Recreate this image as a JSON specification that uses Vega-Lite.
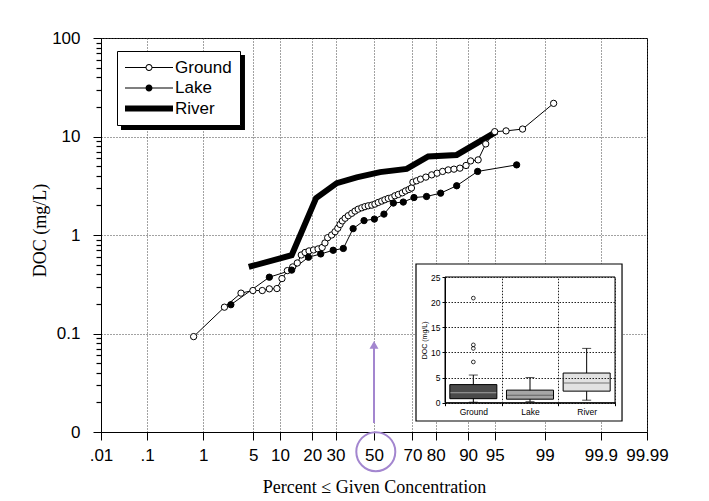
{
  "$schema": "https://vega.github.io/schema/vega-lite/v6.json",
  "width": 546,
  "height": 394,
  "autosize": {"type": "none"},
  "padding": {"left": 101, "top": 38, "right": 62, "bottom": 69},
  "background": "white",
  "datasets": {
    "series": [
      {"s": "Ground", "p": 0.7, "doc": 0.093},
      {"s": "Ground", "p": 2.08, "doc": 0.185},
      {"s": "Ground", "p": 3.5, "doc": 0.257},
      {"s": "Ground", "p": 4.95, "doc": 0.273},
      {"s": "Ground", "p": 6.4, "doc": 0.273},
      {"s": "Ground", "p": 7.7, "doc": 0.284},
      {"s": "Ground", "p": 9.3, "doc": 0.286},
      {"s": "Ground", "p": 10.5, "doc": 0.361},
      {"s": "Ground", "p": 11.9, "doc": 0.435},
      {"s": "Ground", "p": 13.4, "doc": 0.474},
      {"s": "Ground", "p": 14.8, "doc": 0.52},
      {"s": "Ground", "p": 16.1, "doc": 0.627},
      {"s": "Ground", "p": 17.4, "doc": 0.665},
      {"s": "Ground", "p": 18.8, "doc": 0.689},
      {"s": "Ground", "p": 20.5, "doc": 0.705},
      {"s": "Ground", "p": 22.3, "doc": 0.722},
      {"s": "Ground", "p": 24.0, "doc": 0.747},
      {"s": "Ground", "p": 25.2, "doc": 0.83},
      {"s": "Ground", "p": 26.4, "doc": 0.939},
      {"s": "Ground", "p": 28.2, "doc": 1.0},
      {"s": "Ground", "p": 29.8, "doc": 1.08},
      {"s": "Ground", "p": 31.1, "doc": 1.17},
      {"s": "Ground", "p": 32.2, "doc": 1.28},
      {"s": "Ground", "p": 33.3, "doc": 1.39},
      {"s": "Ground", "p": 34.7, "doc": 1.48},
      {"s": "Ground", "p": 36.3, "doc": 1.57},
      {"s": "Ground", "p": 38.1, "doc": 1.66},
      {"s": "Ground", "p": 39.8, "doc": 1.75},
      {"s": "Ground", "p": 41.5, "doc": 1.83},
      {"s": "Ground", "p": 43.4, "doc": 1.89},
      {"s": "Ground", "p": 45.1, "doc": 1.94},
      {"s": "Ground", "p": 46.9, "doc": 1.98},
      {"s": "Ground", "p": 48.8, "doc": 2.01},
      {"s": "Ground", "p": 50.5, "doc": 2.06},
      {"s": "Ground", "p": 52.3, "doc": 2.14},
      {"s": "Ground", "p": 54.2, "doc": 2.21},
      {"s": "Ground", "p": 55.9, "doc": 2.28},
      {"s": "Ground", "p": 57.7, "doc": 2.35},
      {"s": "Ground", "p": 59.5, "doc": 2.39},
      {"s": "Ground", "p": 61.2, "doc": 2.5},
      {"s": "Ground", "p": 63.0, "doc": 2.58},
      {"s": "Ground", "p": 65.0, "doc": 2.68},
      {"s": "Ground", "p": 66.6, "doc": 2.8},
      {"s": "Ground", "p": 68.3, "doc": 2.9},
      {"s": "Ground", "p": 69.5, "doc": 3.0},
      {"s": "Ground", "p": 70.2, "doc": 3.44},
      {"s": "Ground", "p": 71.9, "doc": 3.55},
      {"s": "Ground", "p": 73.7, "doc": 3.69},
      {"s": "Ground", "p": 76.0, "doc": 3.87},
      {"s": "Ground", "p": 78.4, "doc": 4.08},
      {"s": "Ground", "p": 80.5, "doc": 4.24},
      {"s": "Ground", "p": 82.5, "doc": 4.42},
      {"s": "Ground", "p": 84.4, "doc": 4.58},
      {"s": "Ground", "p": 86.2, "doc": 4.66},
      {"s": "Ground", "p": 87.9, "doc": 4.77},
      {"s": "Ground", "p": 89.5, "doc": 5.08},
      {"s": "Ground", "p": 90.6, "doc": 5.65},
      {"s": "Ground", "p": 92.2, "doc": 5.79},
      {"s": "Ground", "p": 93.6, "doc": 8.41},
      {"s": "Ground", "p": 95.0, "doc": 11.2},
      {"s": "Ground", "p": 96.4, "doc": 11.4},
      {"s": "Ground", "p": 97.85, "doc": 11.9},
      {"s": "Ground", "p": 99.28, "doc": 21.7},
      {"s": "Lake", "p": 2.56, "doc": 0.196},
      {"s": "Lake", "p": 7.7, "doc": 0.373},
      {"s": "Lake", "p": 13.1, "doc": 0.44},
      {"s": "Lake", "p": 18.6, "doc": 0.595},
      {"s": "Lake", "p": 23.4, "doc": 0.642},
      {"s": "Lake", "p": 28.9, "doc": 0.7},
      {"s": "Lake", "p": 33.8, "doc": 0.73},
      {"s": "Lake", "p": 38.8, "doc": 1.16},
      {"s": "Lake", "p": 44.6, "doc": 1.4},
      {"s": "Lake", "p": 50.2, "doc": 1.45},
      {"s": "Lake", "p": 55.4, "doc": 1.63},
      {"s": "Lake", "p": 60.4, "doc": 2.11},
      {"s": "Lake", "p": 65.5, "doc": 2.16},
      {"s": "Lake", "p": 70.7, "doc": 2.4},
      {"s": "Lake", "p": 76.3, "doc": 2.46},
      {"s": "Lake", "p": 81.8, "doc": 2.66},
      {"s": "Lake", "p": 87.0, "doc": 3.16},
      {"s": "Lake", "p": 92.1, "doc": 4.42},
      {"s": "Lake", "p": 97.4, "doc": 5.15},
      {"s": "River", "p": 4.4, "doc": 0.474},
      {"s": "River", "p": 13.1, "doc": 0.623},
      {"s": "River", "p": 21.5, "doc": 2.37},
      {"s": "River", "p": 30.6, "doc": 3.36},
      {"s": "River", "p": 40.7, "doc": 3.84},
      {"s": "River", "p": 53.3, "doc": 4.35},
      {"s": "River", "p": 67.2, "doc": 4.69},
      {"s": "River", "p": 77.0, "doc": 6.27},
      {"s": "River", "p": 87.0, "doc": 6.5},
      {"s": "River", "p": 95.25, "doc": 11.2}
    ],
    "frames": [
      {"item": "legend shadow", "p1": 0.0284, "p2": 3.94, "doc1": 11.64, "doc2": 67.2},
      {"item": "inset outer", "p1": 71.64, "p2": 99.9636, "doc1": 0.01293, "doc2": 0.5077},
      {"item": "inset inner", "p1": 83.33, "p2": 99.9487, "doc1": 0.01984, "doc2": 0.3748}
    ],
    "markup": [
      {"item": "circle", "p": 50.98, "doc": 0.00631},
      {"item": "arrow", "p": 50, "doc": 0.0766, "doc_from": 0.01234}
    ],
    "box": [
      {"cat": "Ground", "lower": 0.1, "q1": 0.8, "median": 2.0, "q3": 3.6, "upper": 5.5},
      {"cat": "Lake", "lower": 0.2, "q1": 0.7, "median": 1.5, "q3": 2.5, "upper": 5.0},
      {"cat": "River", "lower": 0.5, "q1": 2.3, "median": 3.9, "q3": 5.9, "upper": 10.8}
    ],
    "outliers": [
      {"cat": "Ground", "doc": 8.1},
      {"cat": "Ground", "doc": 10.8},
      {"cat": "Ground", "doc": 11.5},
      {"cat": "Ground", "doc": 20.8}
    ]
  },
  "layer": [
    {
      "layer": [
        {
          "data": {"name": "series"},
          "transform": [{"calculate": "quantileNormal(datum.p / 100)", "as": "z"}],
          "mark": {"type": "line", "color": "black"},
          "encoding": {
            "x": {
              "field": "z", "type": "quantitative",
              "scale": {"domain": [-3.719, 3.719], "nice": false, "zero": false},
              "axis": {
                "orient": "bottom",
                "values": [-3.719, -3.0902, -2.3263, -1.6449, -1.2816, -0.8416, -0.5244, 0, 0.5244, 0.8416, 1.2816, 1.6449, 2.3263, 3.0902, 3.719],
                "tickCount": 30,
                "labelExpr": "['.01','.1','1','5','10','20','30','50','70','80','90','95','99','99.9','99.99'][indexof([-3.719, -3.0902, -2.3263, -1.6449, -1.2816, -0.8416, -0.5244, 0, 0.5244, 0.8416, 1.2816, 1.6449, 2.3263, 3.0902, 3.719], datum.value)]",
                "title": "Percent ≤ Given Concentration",
                "titleFont": "Liberation Serif", "titleFontSize": 18, "titleFontWeight": "normal", "titlePadding": 15,
                "labelFont": "Liberation Sans", "labelFontSize": 17, "labelPadding": 7, "labelFlush": false, "labelOverlap": false, "labelDx": 2,
                "tickSize": 8,
                "grid": true, "gridDash": [1, 2], "gridColor": "#444", "gridWidth": 1
              }
            },
            "y": {
              "field": "doc", "type": "quantitative",
              "scale": {"type": "log", "domain": [0.01, 100], "nice": false},
              "axis": {
                "orient": "left",
                "values": [0.01, 0.1, 1, 10, 100],
                "tickCount": 20,
                "labelExpr": "datum.value === 0.01 ? '0' : format(datum.value, '~g')",
                "tickSize": 8,
                "grid": true, "gridDash": [1, 2], "gridColor": "#444", "gridWidth": 1,
                "labelFont": "Liberation Sans", "labelFontSize": 17, "labelPadding": 13, "labelOverlap": false, "labelFlush": false, "labelDy": 2,
                "title": "DOC (mg/L)", "titleFont": "Liberation Serif", "titleFontSize": 18, "titleFontWeight": "normal", "titlePadding": 2, "titleY": 192
              }
            },
            "detail": {"field": "s", "type": "nominal"},
            "strokeWidth": {"condition": {"test": "datum.s === 'River'", "value": 6}, "value": 1},
            "order": {"field": "p", "type": "quantitative"}
          }
        },
        {
          "data": {"name": "series"},
          "transform": [{"filter": "datum.s !== 'River'"}, {"calculate": "quantileNormal(datum.p / 100)", "as": "z"}],
          "mark": {"type": "point", "shape": "circle", "size": 40, "filled": true, "stroke": "black", "strokeWidth": 1, "opacity": 1},
          "encoding": {
            "x": {"field": "z", "type": "quantitative", "scale": {"domain": [-3.719, 3.719], "nice": false, "zero": false}, "axis": null},
            "y": {
              "field": "doc", "type": "quantitative", "scale": {"type": "log", "domain": [0.01, 100], "nice": false},
              "axis": {
                "orient": "left",
                "values": [0.02, 0.03, 0.04, 0.05, 0.06, 0.07, 0.08, 0.09, 0.2, 0.3, 0.4, 0.5, 0.6, 0.7, 0.8, 0.9, 2, 3, 4, 5, 6, 7, 8, 9, 20, 30, 40, 50, 60, 70, 80, 90],
                "tickCount": 60, "tickSize": 5, "tickWidth": 1.2, "tickColor": "black", "ticks": true,
                "labels": false, "grid": false, "domain": false, "title": null
              }
            },
            "fill": {"condition": {"test": "datum.s === 'Lake'", "value": "black"}, "value": "white"}
          }
        },
        {
          "data": {"name": "frames"},
          "transform": [{"filter": "datum.item === 'legend shadow'"}, {"calculate": "quantileNormal(datum.p1 / 100)", "as": "z1"}, {"calculate": "quantileNormal(datum.p2 / 100)", "as": "z2"}],
          "mark": {"type": "rect", "fill": "black"},
          "encoding": {
            "x": {"field": "z1", "type": "quantitative", "scale": {"domain": [-3.719, 3.719], "nice": false, "zero": false}, "axis": null},
            "x2": {"field": "z2"},
            "y": {"field": "doc1", "type": "quantitative", "scale": {"type": "log", "domain": [0.01, 100], "nice": false}, "axis": null},
            "y2": {"field": "doc2"}
          }
        },
        {
          "data": {"name": "frames"},
          "transform": [{"filter": "datum.item === 'inset outer'"}, {"calculate": "quantileNormal(datum.p1 / 100)", "as": "z1"}, {"calculate": "quantileNormal(datum.p2 / 100)", "as": "z2"}],
          "mark": {"type": "rect", "fill": "white", "stroke": "black", "strokeWidth": 1.2},
          "encoding": {
            "x": {"field": "z1", "type": "quantitative", "scale": {"domain": [-3.719, 3.719], "nice": false, "zero": false}, "axis": null},
            "x2": {"field": "z2"},
            "y": {"field": "doc1", "type": "quantitative", "scale": {"type": "log", "domain": [0.01, 100], "nice": false}, "axis": null},
            "y2": {"field": "doc2"}
          }
        },
        {
          "data": {"name": "frames"},
          "transform": [{"filter": "datum.item === 'inset inner'"}, {"calculate": "quantileNormal(datum.p1 / 100)", "as": "z1"}, {"calculate": "quantileNormal(datum.p2 / 100)", "as": "z2"}],
          "mark": {"type": "rect", "fill": "white", "fillOpacity": 0, "stroke": "black", "strokeWidth": 1},
          "encoding": {
            "x": {"field": "z1", "type": "quantitative", "scale": {"domain": [-3.719, 3.719], "nice": false, "zero": false}, "axis": null},
            "x2": {"field": "z2"},
            "y": {"field": "doc1", "type": "quantitative", "scale": {"type": "log", "domain": [0.01, 100], "nice": false}, "axis": null},
            "y2": {"field": "doc2"}
          }
        },
        {
          "data": {"name": "markup"},
          "transform": [{"filter": "datum.item === 'circle'"}, {"calculate": "quantileNormal(datum.p / 100)", "as": "z"}],
          "mark": {"type": "point", "shape": "circle", "size": 1521, "filled": false, "stroke": "#a386cf", "strokeWidth": 2, "opacity": 1},
          "encoding": {
            "x": {"field": "z", "type": "quantitative", "scale": {"domain": [-3.719, 3.719], "nice": false, "zero": false}, "axis": null},
            "y": {"field": "doc", "type": "quantitative", "scale": {"type": "log", "domain": [0.01, 100], "nice": false}, "axis": null}
          }
        },
        {
          "data": {"name": "markup"},
          "transform": [{"filter": "datum.item === 'arrow'"}, {"calculate": "quantileNormal(datum.p / 100)", "as": "z"}],
          "mark": {"type": "rule", "color": "#a386cf", "strokeWidth": 2},
          "encoding": {
            "x": {"field": "z", "type": "quantitative", "scale": {"domain": [-3.719, 3.719], "nice": false, "zero": false}, "axis": null},
            "y": {"field": "doc_from", "type": "quantitative", "scale": {"type": "log", "domain": [0.01, 100], "nice": false}, "axis": null},
            "y2": {"field": "doc"}
          }
        },
        {
          "data": {"name": "markup"},
          "transform": [{"filter": "datum.item === 'arrow'"}, {"calculate": "quantileNormal(datum.p / 100)", "as": "z"}],
          "mark": {"type": "point", "shape": "triangle-up", "size": 80, "filled": true, "color": "#a386cf", "opacity": 1},
          "encoding": {
            "x": {"field": "z", "type": "quantitative", "scale": {"domain": [-3.719, 3.719], "nice": false, "zero": false}, "axis": null},
            "y": {"field": "doc", "type": "quantitative", "scale": {"type": "log", "domain": [0.01, 100], "nice": false}, "axis": null}
          }
        },
        {
          "data": {"name": "series"},
          "transform": [{"calculate": "quantileNormal(datum.p / 100)", "as": "z"}],
          "mark": {"type": "point", "size": 256, "filled": true, "color": "black", "strokeWidth": 0, "opacity": 0},
          "encoding": {
            "x": {"field": "z", "type": "quantitative", "scale": {"domain": [-3.719, 3.719], "nice": false, "zero": false}, "axis": null},
            "y": {"field": "doc", "type": "quantitative", "scale": {"type": "log", "domain": [0.01, 100], "nice": false}, "axis": null},
            "shape": {
              "field": "s", "type": "nominal",
              "scale": {"domain": ["Ground", "Lake", "River"], "range": [
                "M-3,-0.0625L-0.41,-0.0625L-0.41,0.0625L-3,0.0625ZM0.41,-0.0625L3,-0.0625L3,0.0625L0.41,0.0625ZM0.4375,0A0.4375,0.4375,0,1,1,-0.4375,0A0.4375,0.4375,0,1,1,0.4375,0ZM0.3125,0A0.3125,0.3125,0,1,0,-0.3125,0A0.3125,0.3125,0,1,0,0.3125,0Z",
                "M-3,-0.0625L-0.41,-0.0625L-0.41,0.0625L-3,0.0625ZM0.41,-0.0625L3,-0.0625L3,0.0625L0.41,0.0625ZM0.4375,0A0.4375,0.4375,0,1,1,-0.4375,0A0.4375,0.4375,0,1,1,0.4375,0Z",
                "M-3,-0.375L3,-0.375L3,0.375L-3,0.375Z"
              ]},
              "legend": {
                "orient": "none", "legendX": 16, "legendY": 13, "title": null,
                "padding": 8, "rowPadding": 2.5,
                "strokeColor": "black", "fillColor": "white",
                "symbolSize": 256, "symbolStrokeWidth": 0, "symbolFillColor": "black", "symbolOpacity": 1,
                "symbolOffset": 15.5, "labelOffset": 17.5,
                "labelFont": "Liberation Sans", "labelFontSize": 17, "labelColor": "black"
              }
            }
          }
        }
      ],
      "resolve": {"axis": {"x": "independent", "y": "independent"}}
    },
    {
      "layer": [
        {
          "data": {"name": "box"},
          "mark": {"type": "rule", "color": "black", "strokeWidth": 1},
          "encoding": {
            "x": {
              "field": "cat", "type": "nominal",
              "scale": {"domain": ["Ground", "Lake", "River"], "range": [344, 514], "paddingInner": 0, "paddingOuter": 0},
              "axis": {
                "orient": "bottom", "offset": -29.3, "title": null, "tickBand": "extent",
                "grid": false,
                "tickSize": 3, "labelFont": "Liberation Sans", "labelFontSize": 8.5, "labelPadding": 2, "labelAngle": 0,
                "zindex": 1
              }
            },
            "y": {
              "field": "lower", "type": "quantitative",
              "scale": {"domain": [0, 25], "range": [364.7, 239], "nice": false, "zero": false},
              "axis": {
                "orient": "left", "offset": -344, "values": [0, 5, 10, 15, 20, 25], "tickCount": 10,
                "title": "DOC (mg/L)", "titleFont": "Liberation Sans", "titleFontSize": 7, "titleFontWeight": "normal", "titlePadding": 3,
                "grid": true, "gridDash": [1.5, 1.5], "gridColor": "#222",
                "tickSize": 3, "labelFont": "Liberation Sans", "labelFontSize": 8.5, "labelPadding": 2,
                "zindex": 1
              }
            },
            "y2": {"field": "upper"}
          }
        },
        {
          "data": {"name": "box"},
          "mark": {"type": "tick", "color": "black", "size": 9, "thickness": 1},
          "encoding": {
            "x": {
              "field": "cat", "type": "nominal",
              "scale": {"domain": ["Ground", "Lake", "River"], "range": [344, 514], "paddingInner": 0, "paddingOuter": 0},
              "axis": {
                "orient": "top", "title": null, "tickBand": "extent",
                "grid": true, "gridDash": [1.5, 1.5], "gridColor": "#222",
                "domain": false, "ticks": false, "labels": false,
                "zindex": 1
              }
            },
            "y": {"field": "lower", "type": "quantitative", "scale": {"domain": [0, 25], "range": [364.7, 239], "nice": false, "zero": false}, "axis": null}
          }
        },
        {
          "data": {"name": "box"},
          "mark": {"type": "tick", "color": "black", "size": 9, "thickness": 1},
          "encoding": {
            "x": {"field": "cat", "type": "nominal", "scale": {"domain": ["Ground", "Lake", "River"], "range": [344, 514], "paddingInner": 0, "paddingOuter": 0}, "axis": null},
            "y": {"field": "upper", "type": "quantitative", "scale": {"domain": [0, 25], "range": [364.7, 239], "nice": false, "zero": false}, "axis": null}
          }
        },
        {
          "data": {"name": "box"},
          "mark": {"type": "bar", "stroke": "black", "strokeWidth": 1, "width": {"band": 0.83}},
          "encoding": {
            "x": {"field": "cat", "type": "nominal", "scale": {"domain": ["Ground", "Lake", "River"], "range": [344, 514], "paddingInner": 0, "paddingOuter": 0}, "axis": null},
            "y": {"field": "q1", "type": "quantitative", "scale": {"domain": [0, 25], "range": [364.7, 239], "nice": false, "zero": false}, "axis": null},
            "y2": {"field": "q3"},
            "fill": {"condition": [{"test": "datum.cat === 'Ground'", "value": "#4a4a4a"}, {"test": "datum.cat === 'Lake'", "value": "#a6a6a6"}], "value": "#e2e2e2"}
          }
        },
        {
          "data": {"name": "box"},
          "mark": {"type": "tick", "size": 46, "thickness": 1},
          "encoding": {
            "x": {"field": "cat", "type": "nominal", "scale": {"domain": ["Ground", "Lake", "River"], "range": [344, 514], "paddingInner": 0, "paddingOuter": 0}, "axis": null},
            "y": {"field": "median", "type": "quantitative", "scale": {"domain": [0, 25], "range": [364.7, 239], "nice": false, "zero": false}, "axis": null},
            "color": {"condition": {"test": "datum.cat === 'Ground'", "value": "#c8c8c8"}, "value": "#444444"}
          }
        },
        {
          "data": {"name": "outliers"},
          "mark": {"type": "point", "shape": "circle", "size": 14, "filled": false, "color": "black", "strokeWidth": 0.8, "opacity": 1},
          "encoding": {
            "x": {"field": "cat", "type": "nominal", "scale": {"domain": ["Ground", "Lake", "River"], "range": [344, 514], "paddingInner": 0, "paddingOuter": 0}, "axis": null},
            "y": {"field": "doc", "type": "quantitative", "scale": {"domain": [0, 25], "range": [364.7, 239], "nice": false, "zero": false}, "axis": null}
          }
        }
      ],
      "resolve": {"axis": {"x": "independent", "y": "independent"}}
    }
  ],
  "resolve": {"scale": {"x": "independent", "y": "independent"}, "axis": {"x": "independent", "y": "independent"}},
  "config": {
    "view": {"stroke": "black", "strokeWidth": 1},
    "font": "Liberation Sans",
    "axis": {"domainColor": "black", "tickColor": "black", "labelColor": "black", "titleColor": "black", "domainWidth": 1, "tickWidth": 1, "labelOverlap": false}
  }
}
